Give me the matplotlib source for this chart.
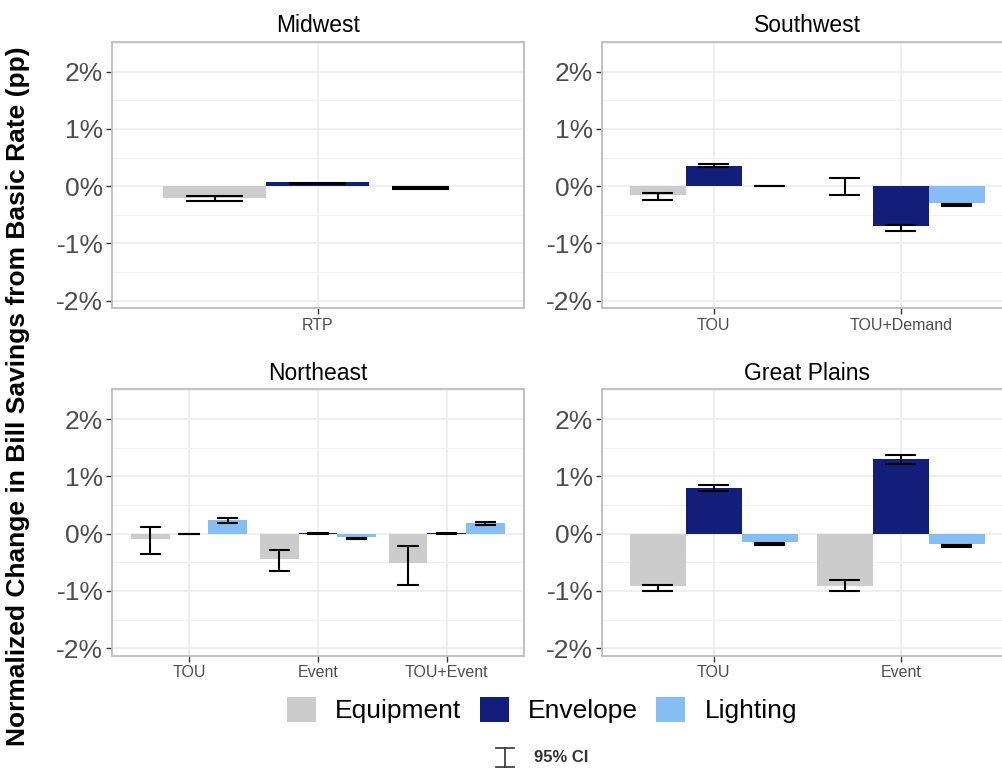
import matplotlib
matplotlib.use("Agg")
import matplotlib.pyplot as plt
from matplotlib.patches import Patch
from matplotlib.lines import Line2D
from matplotlib.ticker import MultipleLocator, FuncFormatter

plt.rcParams['font.family'] = ['Liberation Sans', 'DejaVu Sans']

# Series order: Equipment, Envelope, Lighting  (values in percentage points)
series = ["Equipment", "Envelope", "Lighting"]
colors = ["#CCCCCC", "#111E7A", "#85BEF5"]

midwest_rates = ["RTP"]
midwest_est = [[-0.20], [0.065], [0.0]]
midwest_lo = [[-0.26], [0.035], [-0.05]]
midwest_hi = [[-0.18], [0.05], [-0.01]]

southwest_rates = ["TOU", "TOU+Demand"]
southwest_est = [[-0.16, 0.0], [0.35, -0.70], [0.0, -0.29]]
southwest_lo = [[-0.25, -0.15], [0.33, -0.78], [-0.005, -0.35]]
southwest_hi = [[-0.12, 0.15], [0.39, -0.68], [0.005, -0.32]]

northeast_rates = ["TOU", "Event", "TOU+Event"]
northeast_est = [[-0.09, -0.45, -0.51], [0.0, 0.02, 0.02], [0.24, -0.05, 0.18]]
northeast_lo = [[-0.35, -0.65, -0.90], [-0.01, -0.01, -0.01], [0.19, -0.09, 0.16]]
northeast_hi = [[0.12, -0.29, -0.22], [0.0, 0.01, 0.01], [0.27, -0.07, 0.20]]

plains_rates = ["TOU", "Event"]
plains_est = [[-0.91, -0.91], [0.80, 1.31], [-0.15, -0.18]]
plains_lo = [[-1.00, -1.00], [0.74, 1.21], [-0.20, -0.23]]
plains_hi = [[-0.90, -0.81], [0.85, 1.37], [-0.16, -0.19]]

panels = [
    ("Midwest", midwest_rates, midwest_est, midwest_lo, midwest_hi),
    ("Southwest", southwest_rates, southwest_est, southwest_lo, southwest_hi),
    ("Northeast", northeast_rates, northeast_est, northeast_lo, northeast_hi),
    ("Great Plains", plains_rates, plains_est, plains_lo, plains_hi),
]

W, H = 1003, 771
fig = plt.figure(figsize=(W / 100, H / 100), dpi=100)

# panel boxes in pixels: left, top, right, bottom
boxes = [
    (111.7, 42, 524, 308),
    (601.7, 42, 1013, 308),
    (111.7, 389.3, 524, 655.7),
    (601.7, 389.3, 1013, 655.7),
]

bar_w = 0.3
cap_half = 0.083
grey_txt = "#4D4D4D"

for k, ((title, rates, est, lo, hi), (l, t, r, b)) in enumerate(zip(panels, boxes)):
    ax = fig.add_axes([l / W, 1 - b / H, (r - l) / W, (b - t) / H])
    n = len(rates)
    xs = list(range(n))
    for j in range(3):
        xpos = [x + (j - 1) * bar_w for x in xs]
        ax.bar(xpos, est[j], width=bar_w, color=colors[j], zorder=2)
        ax.vlines(xpos, lo[j], hi[j], color="black", lw=1.5, zorder=3)
        for xp, lv, hv in zip(xpos, lo[j], hi[j]):
            ax.hlines([lv, hv], xp - cap_half, xp + cap_half, color="black", lw=1.5, zorder=3)

    ax.set_xlim(-0.6, n - 0.4)
    ax.set_ylim(-2.13, 2.52)
    ax.set_xticks(xs)
    ax.set_xticklabels(rates, fontsize=11.5, color=grey_txt)
    ax.yaxis.set_major_locator(MultipleLocator(1))
    ax.yaxis.set_minor_locator(MultipleLocator(0.5))
    ax.yaxis.set_major_formatter(FuncFormatter(lambda v, p: f"{v:.0f}%"))
    ax.tick_params(axis="y", labelsize=19, labelcolor=grey_txt, length=4,
                   width=1, color="#333333", pad=2)
    ax.tick_params(axis="y", which="minor", length=0)
    ax.tick_params(axis="x", length=4, width=1, color="#333333", pad=3)
    ax.grid(True, which="major", color="#EBEBEB", lw=1.1, zorder=0)
    ax.grid(True, which="minor", axis="y", color="#F2F2F2", lw=0.8, zorder=0)
    ax.set_axisbelow(True)
    for sp in ax.spines.values():
        sp.set_color("#BDBDBD")
        sp.set_linewidth(1.3)
    if k % 2 == 1:
        ax.spines["right"].set_visible(False)
    ax.set_title(title, fontsize=16.5, pad=7)

fig.text(18 / W, 1 - 396 / H, "Normalized Change in Bill Savings from Basic Rate (pp)",
         rotation=90, ha="center", va="center", fontsize=19, fontweight="bold")

handles = [Patch(facecolor=c, edgecolor="none", label=s) for s, c in zip(series, colors)]
fig.legend(handles=handles, loc="center", bbox_to_anchor=(542 / W, 1 - 710 / H),
           ncol=3, frameon=False, fontsize=19, handlelength=1.1, handleheight=1.1,
           handletextpad=0.72, columnspacing=0.7, borderpad=0)

# confidence interval key
cx, y0, y1 = 505 / W, 1 - 767 / H, 1 - 748 / H
fig.add_artist(Line2D([cx, cx], [y0, y1], transform=fig.transFigure, color="#333333", lw=1.2))
for yy in (y0, y1):
    fig.add_artist(Line2D([cx - 9 / W, cx + 9 / W], [yy, yy], transform=fig.transFigure,
                          color="#333333", lw=1.2))
fig.text(534 / W, 1 - 758 / H, "95% CI", ha="left", va="center", fontsize=12,
         fontweight="bold", color="#333333")

fig.savefig("out.png", dpi=100)
